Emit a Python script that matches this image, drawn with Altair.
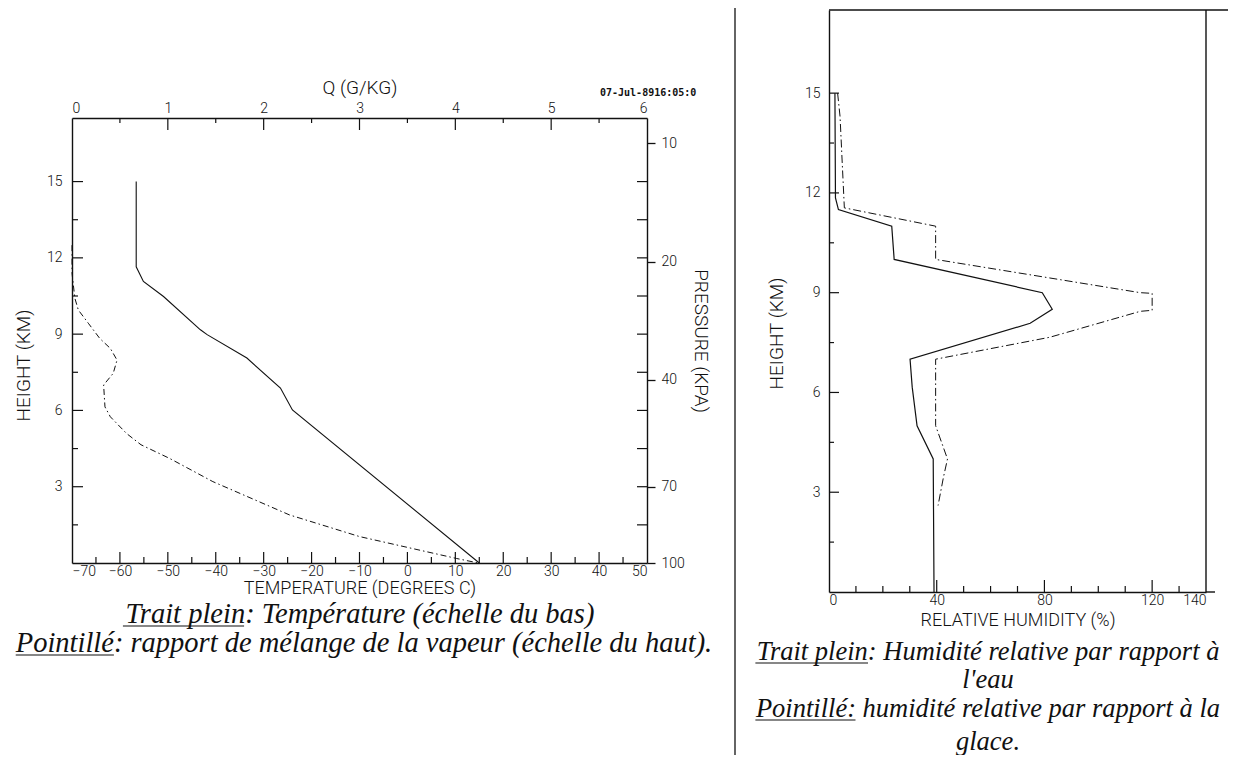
import altair as alt
import pandas as pd

# ---------------- data ----------------
temp_height = [15.0, 11.65, 11.07, 10.48, 9.17, 8.98, 8.06, 6.88, 6.02, 0.0]
temp_value = [-56.6, -56.6, -55.1, -50.9, -43.2, -41.8, -33.5, -26.5, -24.0, 15.0]

q_height = [12.5, 11.4, 10.41, 9.95, 9.43, 8.83, 8.44, 7.98, 7.46, 7.0, 6.14,
            5.75, 5.09, 4.65, 4.11, 3.2, 1.89, 1.04, 0.18, 0.0]
q_value = [0.0, 0.0, 0.03, 0.066, 0.17, 0.29, 0.40, 0.47, 0.43, 0.33, 0.344,
           0.40, 0.57, 0.72, 1.02, 1.47, 2.27, 3.0, 4.01, 4.24]

rh_water_height = [15.0, 11.85, 11.5, 11.0, 10.0, 9.0, 8.5, 8.08, 7.0, 6.16, 5.0, 4.0, 0.0]
rh_water = [2.2, 2.4, 3.5, 23.3, 24.2, 79.2, 82.9, 74.7, 30.1, 30.9, 32.7, 38.7, 39.0]

rh_ice_height = [15.0, 14.3, 11.55, 11.0, 10.0, 9.0, 8.98, 8.47, 8.44, 7.66, 7.0, 5.0, 4.0, 3.45, 2.6]
rh_ice = [3.2, 4.1, 5.7, 39.6, 39.6, 115.6, 120.0, 120.0, 115.6, 82.0, 39.6, 39.6, 44.0, 42.5, 40.5]

# tick labels / tick positions
temp_labels = [-70, -60, -50, -40, -30, -20, -10, 0, 10, 20, 30, 40, 50]
temp_major = [-60, -50, -40, -30, -20, -10, 0, 10, 20, 30, 40]
temp_minor = [-65, -55, -45, -35, -25, -15, -5, 5, 15, 25, 35, 45]
q_labels = [0, 1, 2, 3, 4, 5, 6]
q_major = [1, 2, 3, 4, 5]
q_minor = [0.5, 1.5, 2.5, 3.5, 4.5, 5.5]
height_labels = [3, 6, 9, 12, 15]
height_minor = [1.5, 4.5, 7.5, 10.5, 13.5]
height_all = [1.5, 3, 4.5, 6, 7.5, 9, 10.5, 12, 13.5, 15]
pressure_labels = ["10", "20", "40", "70", "100"]
pressure_heights = [16.5, 11.85, 7.2, 3.0, 0.0]
rh_labels = [0, 40, 80, 120, 140]
rh_major = [40, 80, 120]
rh_minor = [10, 20, 30, 50, 60, 70, 90, 100, 110, 130]

# ---------------- layout (pixels, chart coordinates) ----------------
W, H = 1222, 747
LX0, LX1, LY0, LY1 = 64, 639, 555, 110      # left panel plot box
RX0, RX1, RY0, RY1 = 821, 1198, 584, 2      # right panel plot box

T_SC = alt.Scale(domain=[-70, 50], range=[LX0, LX1], nice=False, zero=False)
Q_SC = alt.Scale(domain=[0, 6], range=[LX0, LX1], nice=False)
HL_SC = alt.Scale(domain=[0, 17.5], range=[LY0, LY1], nice=False)
RH_SC = alt.Scale(domain=[0, 140], range=[RX0, RX1], nice=False)
HR_SC = alt.Scale(domain=[0, 17.5], range=[RY0, RY1], nice=False)

BLACK = "#111111"
one = pd.DataFrame({"a": [0]})

temp_df = pd.DataFrame({"h": temp_height, "v": temp_value, "i": range(len(temp_height))})
q_df = pd.DataFrame({"h": q_height, "v": q_value, "i": range(len(q_height))})
rw_df = pd.DataFrame({"h": rh_water_height, "v": rh_water, "i": range(len(rh_water))})
ri_df = pd.DataFrame({"h": rh_ice_height, "v": rh_ice, "i": range(len(rh_ice))})

axis_style = dict(grid=False, domainColor=BLACK, domainWidth=1.4, labelColor=BLACK,
                  titleColor=BLACK, labelFont="Roboto", titleFont="Roboto",
                  labelFontSize=14, titleFontSize=19, titleFontWeight=300,
                  labelFontWeight=300)
bottom_style = dict(axis_style, titleFontSize=18)

press_expr = " : ".join(
    f"abs(datum.value - {h}) < 0.01 ? '{p}'" for h, p in zip(pressure_heights, pressure_labels)
) + " : ''"

layers = []

# --- left panel lines
layers.append(
    alt.Chart(temp_df).mark_line(color=BLACK, strokeWidth=1.1).encode(
        x=alt.X("v:Q", scale=T_SC, axis=alt.Axis(
            orient="bottom", offset=LY0 - H, values=temp_labels, ticks=False,
            labelPadding=1, title="TEMPERATURE (DEGREES C)", titleY=25.5,
            titleBaseline="middle", **bottom_style)),
        y=alt.Y("h:Q", scale=HL_SC, axis=alt.Axis(
            orient="left", offset=-LX0, values=height_labels, ticks=False,
            labelPadding=10, title="HEIGHT (KM)", titleX=-49, titleY=357,
            titleBaseline="middle", **axis_style)),
        order="i:Q",
    )
)
layers.append(
    alt.Chart(q_df).mark_line(color=BLACK, strokeWidth=1.0, strokeDash=[6, 3, 1.5, 3]).encode(
        x=alt.X("v:Q", scale=Q_SC, axis=alt.Axis(
            orient="top", offset=-LY1, values=q_labels, ticks=False,
            labelPadding=3, title="Q (G/KG)", titleY=-31,
            titleBaseline="middle", **axis_style)),
        y=alt.Y("h:Q", scale=HL_SC, axis=None),
        order="i:Q",
    )
)
# right (pressure) axis + inner ticks of the left panel's right side
layers.append(
    alt.Chart(pd.DataFrame({"h": height_all})).mark_rule(color=BLACK, strokeWidth=1.2).encode(
        y=alt.Y("h:Q", scale=HL_SC, axis=alt.Axis(
            orient="right", offset=LX1 - W, values=pressure_heights, tickSize=8,
            tickColor=BLACK, tickWidth=1.3, labelPadding=6, labelExpr=press_expr,
            title="PRESSURE (KPA)", titleX=53, titleBaseline="middle", **axis_style)),
        x=alt.value(LX1 - 10), x2=alt.value(LX1),
    )
)


def xticks(vals, scale, y0, y1):
    return alt.Chart(pd.DataFrame({"t": vals})).mark_rule(color=BLACK, strokeWidth=1.2).encode(
        x=alt.X("t:Q", scale=scale, axis=None), y=alt.value(y0), y2=alt.value(y1))


def yticks(vals, scale, x0, x1):
    return alt.Chart(pd.DataFrame({"t": vals})).mark_rule(color=BLACK, strokeWidth=1.2).encode(
        y=alt.Y("t:Q", scale=scale, axis=None), x=alt.value(x0), x2=alt.value(x1))


layers += [
    xticks(temp_major, T_SC, LY0, LY0 - 11),
    xticks(temp_minor, T_SC, LY0, LY0 - 6),
    xticks(q_major, Q_SC, LY1, LY1 + 12),
    xticks(q_minor, Q_SC, LY1, LY1 + 5),
    yticks(height_labels, HL_SC, LX0, LX0 + 11),
    yticks(height_minor, HL_SC, LX0, LX0 + 6),
]

# --- right panel lines
layers.append(
    alt.Chart(rw_df).mark_line(color=BLACK, strokeWidth=1.2).encode(
        x=alt.X("v:Q", scale=RH_SC, axis=alt.Axis(
            orient="bottom", offset=RY0 - H, values=rh_labels, ticks=False,
            labelPadding=1, title="RELATIVE HUMIDITY (%)", titleY=28,
            titleBaseline="middle", **bottom_style)),
        y=alt.Y("h:Q", scale=HR_SC, axis=alt.Axis(
            orient="left", offset=-RX0, values=height_labels, ticks=False,
            labelPadding=9, title="HEIGHT (KM)", titleX=-53, titleY=325,
            titleBaseline="middle", **axis_style)),
        order="i:Q",
    )
)
layers.append(
    alt.Chart(ri_df).mark_line(color=BLACK, strokeWidth=1.0, strokeDash=[8, 3, 1.5, 3]).encode(
        x=alt.X("v:Q", scale=RH_SC, axis=None),
        y=alt.Y("h:Q", scale=HR_SC, axis=None),
        order="i:Q",
    )
)
layers += [
    xticks(rh_major, RH_SC, RY0, RY0 - 12),
    xticks(rh_minor, RH_SC, RY0, RY0 - 6),
    yticks(height_labels, HR_SC, RX0, RX0 + 10),
    yticks(height_minor, HR_SC, RX0, RX0 + 5),
]


# --- frame lines of the scanned page
def frame(x0, y0, x1, y1, w=1.4):
    return alt.Chart(one).mark_rule(color=BLACK, strokeWidth=w).encode(
        x=alt.value(x0), y=alt.value(y0), x2=alt.value(x1), y2=alt.value(y1))


layers += [
    frame(727, 0, 727, H, 1.3),            # page separator
    frame(RX0, RY1, 1220, RY1),            # top line of right panel
    frame(RX1, RY1, RX1, RY0),             # right border of right panel
    frame(RX1, RY0, 1207, RY0),            # bottom axis overhang
]

# date stamp
layers.append(
    alt.Chart(one).mark_text(text="07-Jul-8916:05:0", font="DejaVu Sans Mono",
                             fontWeight="bold", fontSize=10, align="left",
                             baseline="middle", color=BLACK).encode(
        x=alt.value(592), y=alt.value(85))
)

# --- captions (italic serif) with underlined lead words
TW = {' ': 250, 'T': 556, 'r': 389, 'a': 500, 'i': 278, 't': 278, 'p': 500, 'l': 278,
      'e': 444, 'n': 500, ':': 333, 'P': 611, 'o': 500, 'é': 444, 'H': 722, 'm': 722,
      'd': 500, 'u': 500, 'v': 444, 'h': 500, 'c': 444, 'g': 500, 'b': 500, 's': 389,
      "'": 214, '(': 333, ')': 333, 'à': 500, '.': 250}


def tw(s, fs):
    return sum(TW.get(c, 500) for c in s) / 1000.0 * fs


def caption(text, cx, base, fs, under=None):
    out = [alt.Chart(one).mark_text(text=text, font="Liberation Serif", fontStyle="italic",
                                    fontSize=fs, align="center", baseline="alphabetic",
                                    color=BLACK).encode(x=alt.value(cx), y=alt.value(base))]
    if under:
        x0 = cx - tw(text, fs) / 2
        out.append(frame(x0, base + 3, x0 + tw(under, fs), base + 3, 1.1))
    return out


FL, FR = 28.5, 26.5
layers += caption("Trait plein: Température (échelle du bas)", 352, 615, FL, "Trait plein")
layers += caption("Pointillé: rapport de mélange de la vapeur (échelle du haut).", 356, 644, FL, "Pointillé")
layers += caption("Trait plein: Humidité relative par rapport à", 980, 652, FR, "Trait plein")
layers += caption("l'eau", 980, 680, FR)
layers += caption("Pointillé: humidité relative par rapport à la", 980, 709, FR, "Pointillé:")
layers += caption("glace.", 980, 742, FR)

chart = alt.layer(*layers).resolve_scale(x="independent", y="independent").properties(
    width=W, height=H, padding=0, autosize="none", background="white"
).configure_view(stroke=None)

chart.save("out.html", embed_options={"renderer": "svg", "actions": False})
